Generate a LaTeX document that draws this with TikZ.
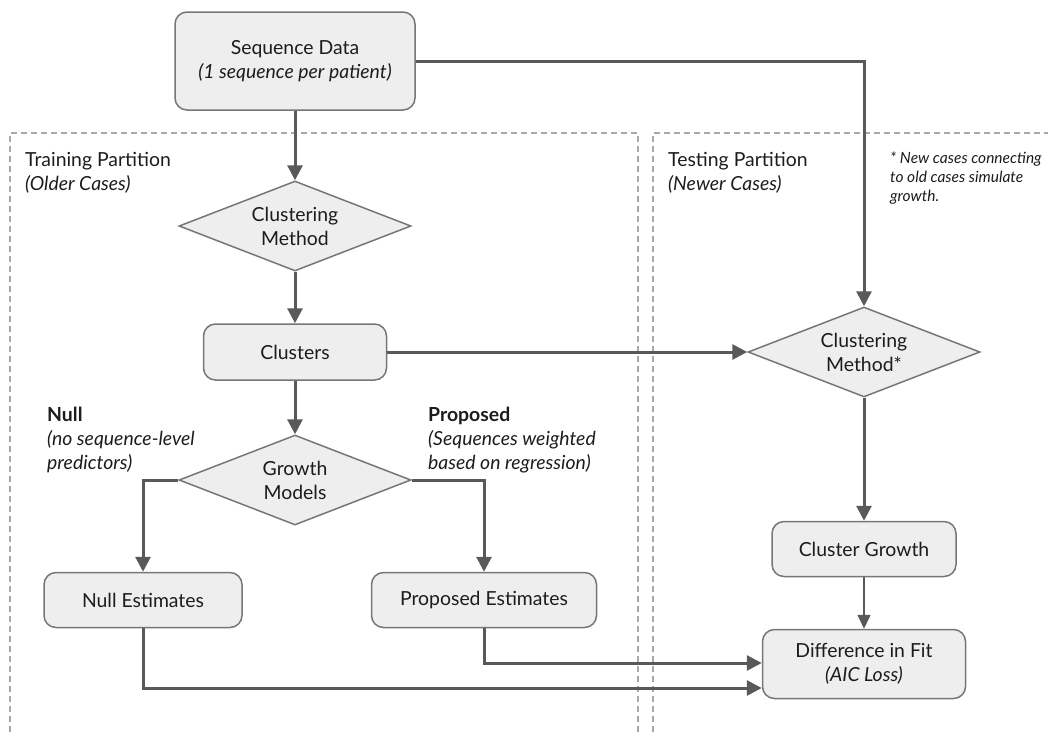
\documentclass[tikz,border=0pt]{standalone}
\usepackage{fontspec}
\setmainfont{Lato}
\usetikzlibrary{shapes.geometric,arrows.meta}
\definecolor{boxfill}{HTML}{EEEEEE}
\definecolor{boxline}{HTML}{767676}
\definecolor{flow}{HTML}{595959}
\definecolor{part}{HTML}{A8A8A8}
\definecolor{ink}{HTML}{1C1C1C}

\begin{document}
\begin{tikzpicture}[x=1pt,y=-1pt,
  every node/.style={font=\fontsize{19.4}{24}\selectfont, text=ink},
  procbox/.style={draw=boxline, fill=boxfill, line width=1.5pt, rounded corners=12pt,
    inner sep=0pt, align=center},
  decision/.style={diamond, draw=boxline, fill=boxfill, line width=1.5pt, inner sep=0pt,
    shape aspect=2.6, minimum width=232pt, minimum height=90pt, align=center},
  flowline/.style={draw=flow, line width=3pt, -{Triangle[length=15pt,width=15pt]}},
  thinflow/.style={draw=flow, line width=1.3pt, -{Triangle[length=14pt,width=13pt]}},
  partline/.style={draw=part, line width=1.2pt, dash pattern=on 6pt off 4pt},
  % anchored at the baseline of the last line
  caption/.style={anchor=base west, align=left, inner sep=0pt},
  note/.style={anchor=base west, align=left, inner sep=0pt,
    font=\fontsize{15.5}{19}\selectfont\itshape}
]
\useasboundingbox (0,0) rectangle (1048,732);

% partitions
\draw[partline] (10,732) -- (10,133) -- (638,133) -- (638,732);
\draw[partline] (653,732) -- (653,133) -- (1048,133);

% partition titles and side notes
\node[caption] (traintitle) at (25,190) {Training Partition\\\textit{(Older Cases)}};
\node[caption] (testtitle) at (668,190) {Testing Partition\\\textit{(Newer Cases)}};
\node[note] (footnote) at (890,201) {* New cases connecting\\to old cases simulate\\growth.};
\node[caption] (nulltxt) at (47,469) {\textbf{Null}\\\textit{(no sequence-level}\\\textit{predictors)}};
\node[caption] (proptxt) at (428,469) {\textbf{Proposed}\\\textit{(Sequences weighted}\\\textit{based on regression)}};

% process nodes
\node[procbox, minimum width=240pt, minimum height=98pt] (seq) at (295,61)
  {Sequence Data\\\textit{(1 sequence per patient)}};
\node[decision] (cm1) at (295,226) {Clustering\\Method};
\node[procbox, minimum width=183pt, minimum height=56pt] (clusters) at (295,352) {Clusters};
\node[decision] (growth) at (295,480) {Growth\\Models};
\node[procbox, minimum width=198pt, minimum height=55pt] (nullest) at (143,600) {Null Estimates};
\node[procbox, minimum width=225pt, minimum height=55pt] (propest) at (484,600) {Proposed Estimates};
\node[decision] (cm2) at (864,352) {Clustering\\Method*};
\node[procbox, minimum width=184pt, minimum height=55pt] (cgrowth) at (864,549) {Cluster Growth};
\node[procbox, minimum width=203pt, minimum height=69pt] (diff) at (864,664)
  {Difference in Fit\\\textit{(AIC Loss)}};

% connectors
\draw[flowline] (seq.south) -- (cm1.north);
\draw[flowline] (seq.east) -| (cm2.north);
\draw[flowline] (cm1.south) -- (clusters.north);
\draw[flowline] (clusters.east) -- (cm2.west);
\draw[flowline] (clusters.south) -- (growth.north);
\draw[flowline] (growth.west) -| (nullest.north);
\draw[flowline] (growth.east) -| (propest.north);
\draw[flowline] (cm2.south) -- (cgrowth.north);
\draw[thinflow] (cgrowth.south) -- (diff.north);
\draw[flowline] (propest.south) |- ([yshift=1pt]diff.west);
\draw[flowline] (nullest.south) |- ([yshift=-24pt]diff.west);
\end{tikzpicture}
\end{document}
